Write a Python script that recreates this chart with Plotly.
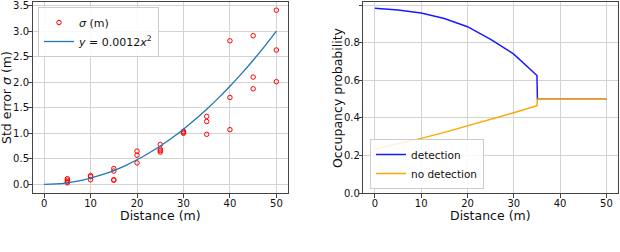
import plotly.graph_objects as go

W, H = 620, 252

# Left panel: measured std errors
meas_x = [5, 5, 5, 5, 10, 10, 10, 15, 15, 15, 15, 20, 20, 20,
          25, 25, 25, 25, 30, 30, 30, 35, 35, 35, 40, 40, 40,
          45, 45, 45, 50, 50, 50]
meas_y = [0.11, 0.08, 0.05, 0.03, 0.17, 0.15, 0.09, 0.31, 0.26, 0.08, 0.09,
          0.65, 0.57, 0.42, 0.78, 0.69, 0.66, 0.63, 1.04, 1.02, 1.00,
          1.33, 1.23, 0.98, 2.81, 1.70, 1.07, 2.91, 2.10, 1.87,
          3.41, 2.63, 2.01]
# fitted curve y = 0.0012 x^2 (values as read)
fit_x = [0, 2.5, 5, 7.5, 10, 12.5, 15, 17.5, 20, 22.5, 25, 27.5, 30, 32.5, 35, 37.5, 40, 42.5, 45, 47.5, 50]
fit_y = [0, 0.0075, 0.03, 0.0675, 0.12, 0.1875, 0.27, 0.3675, 0.48, 0.6075, 0.75, 0.9075,
         1.08, 1.2675, 1.47, 1.6875, 1.92, 2.1675, 2.43, 2.7075, 3.0]

# Right panel: occupancy probability
det_x = [0, 5, 10, 15, 20, 25, 30, 32.5, 35, 35.1, 50]
det_y = [0.984, 0.975, 0.959, 0.930, 0.886, 0.818, 0.740, 0.683, 0.626, 0.5, 0.5]
nodet_x = [0, 5, 10, 15, 20, 25, 30, 35, 35.1, 50]
nodet_y = [0.234, 0.262, 0.291, 0.323, 0.357, 0.392, 0.428, 0.465, 0.5, 0.5]

left_yticks = [0.0, 0.5, 1.0, 1.5, 2.0, 2.5, 3.0, 3.5]
right_yticks = [0.0, 0.2, 0.4, 0.6, 0.8, 1.0]
xticks = [0, 10, 20, 30, 40, 50]

FONT = "DejaVu Sans"
fig = go.Figure()

fig.add_trace(go.Scatter(
    x=meas_x, y=meas_y, mode="markers", name="<i>σ</i> (m)",
    marker=dict(symbol="circle-open", size=4.5, color="red", line=dict(width=1, color="red")),
    xaxis="x", yaxis="y", legend="legend"))
fig.add_trace(go.Scatter(
    x=fit_x, y=fit_y, mode="lines", name="<i>y</i> = 0.0012<i>x</i><sup>2</sup>",
    line=dict(color="#1f77b4", width=1.3, shape="spline"),
    xaxis="x", yaxis="y", legend="legend"))

fig.add_trace(go.Scatter(
    x=det_x, y=det_y, mode="lines", name="detection",
    line=dict(color="#1a1aff", width=1.5),
    xaxis="x2", yaxis="y2", legend="legend2"))
fig.add_trace(go.Scatter(
    x=nodet_x, y=nodet_y, mode="lines", name="no detection",
    line=dict(color="#ffa500", width=1.5),
    xaxis="x2", yaxis="y2", legend="legend2"))

axis_common = dict(
    showline=True, mirror=True, linecolor="#444", linewidth=1,
    showgrid=True, gridcolor="#d3d3d3", gridwidth=1,
    ticks="outside", ticklen=3.5, tickcolor="#444", tickwidth=1,
    zeroline=False, tickfont=dict(family=FONT, size=10, color="#111"),
    automargin=False,
)
yaxis_extra = dict(ticklabelstandoff=-3)
xaxis_extra = dict(ticklabelstandoff=-3)

ytop = 1 - 2 / H
ybot = 1 - 193 / H
ymid = 1 - 97.5 / H

title_font = dict(family=FONT, size=12.5, color="#111")
annotations = [
    dict(text="Distance (m)", x=160 / W, y=1 - 215.5 / H, xref="paper", yref="paper",
         xanchor="center", yanchor="middle", showarrow=False, font=title_font),
    dict(text="Distance (m)", x=490.6 / W, y=1 - 215.5 / H, xref="paper", yref="paper",
         xanchor="center", yanchor="middle", showarrow=False, font=title_font),
    dict(text="Std error <i>σ</i> (m)", x=6.5 / W, y=ymid, xref="paper", yref="paper",
         xanchor="center", yanchor="middle", showarrow=False, textangle=-90, font=title_font),
    dict(text="Occupancy probability", x=337.5 / W, y=ymid, xref="paper", yref="paper",
         xanchor="center", yanchor="middle", showarrow=False, textangle=-90, font=title_font),
]

fig.update_layout(
    width=W, height=H,
    margin=dict(l=0, r=0, t=0, b=0, autoexpand=False),
    paper_bgcolor="white", plot_bgcolor="white",
    font=dict(family=FONT, size=12, color="#111"),
    xaxis=dict(axis_common, **xaxis_extra, domain=[32.5 / W, 288 / W], range=[-2.5, 52.5],
               tickvals=xticks, anchor="y"),
    yaxis=dict(axis_common, **yaxis_extra, domain=[ybot, ytop], range=[-0.17, 3.57],
               tickvals=left_yticks, tickformat=".1f", anchor="x"),
    xaxis2=dict(axis_common, **xaxis_extra, domain=[363.3 / W, 618 / W], range=[-2.5, 52.5],
                tickvals=xticks, anchor="y2"),
    yaxis2=dict(axis_common, **yaxis_extra, domain=[ybot, ytop], range=[0, 1.0175],
                tickvals=right_yticks, tickformat=".1f", anchor="x2"),
    annotations=annotations,
    legend=dict(x=38 / W, y=1 - 7 / H, xanchor="left", yanchor="top",
                bgcolor="rgba(255,255,255,0.85)", bordercolor="#cccccc", borderwidth=1,
                font=dict(family=FONT, size=11), tracegroupgap=0, itemwidth=30),
    legend2=dict(x=370 / W, y=1 - 189 / H, xanchor="left", yanchor="bottom",
                 bgcolor="rgba(255,255,255,0.85)", bordercolor="#cccccc", borderwidth=1,
                 font=dict(family=FONT, size=10.5), tracegroupgap=0, itemwidth=30),
    showlegend=True,
)

fig.write_html("out.html", config={"displayModeBar": False},
               post_script="document.body.style.margin='0';document.body.style.padding='0';")
